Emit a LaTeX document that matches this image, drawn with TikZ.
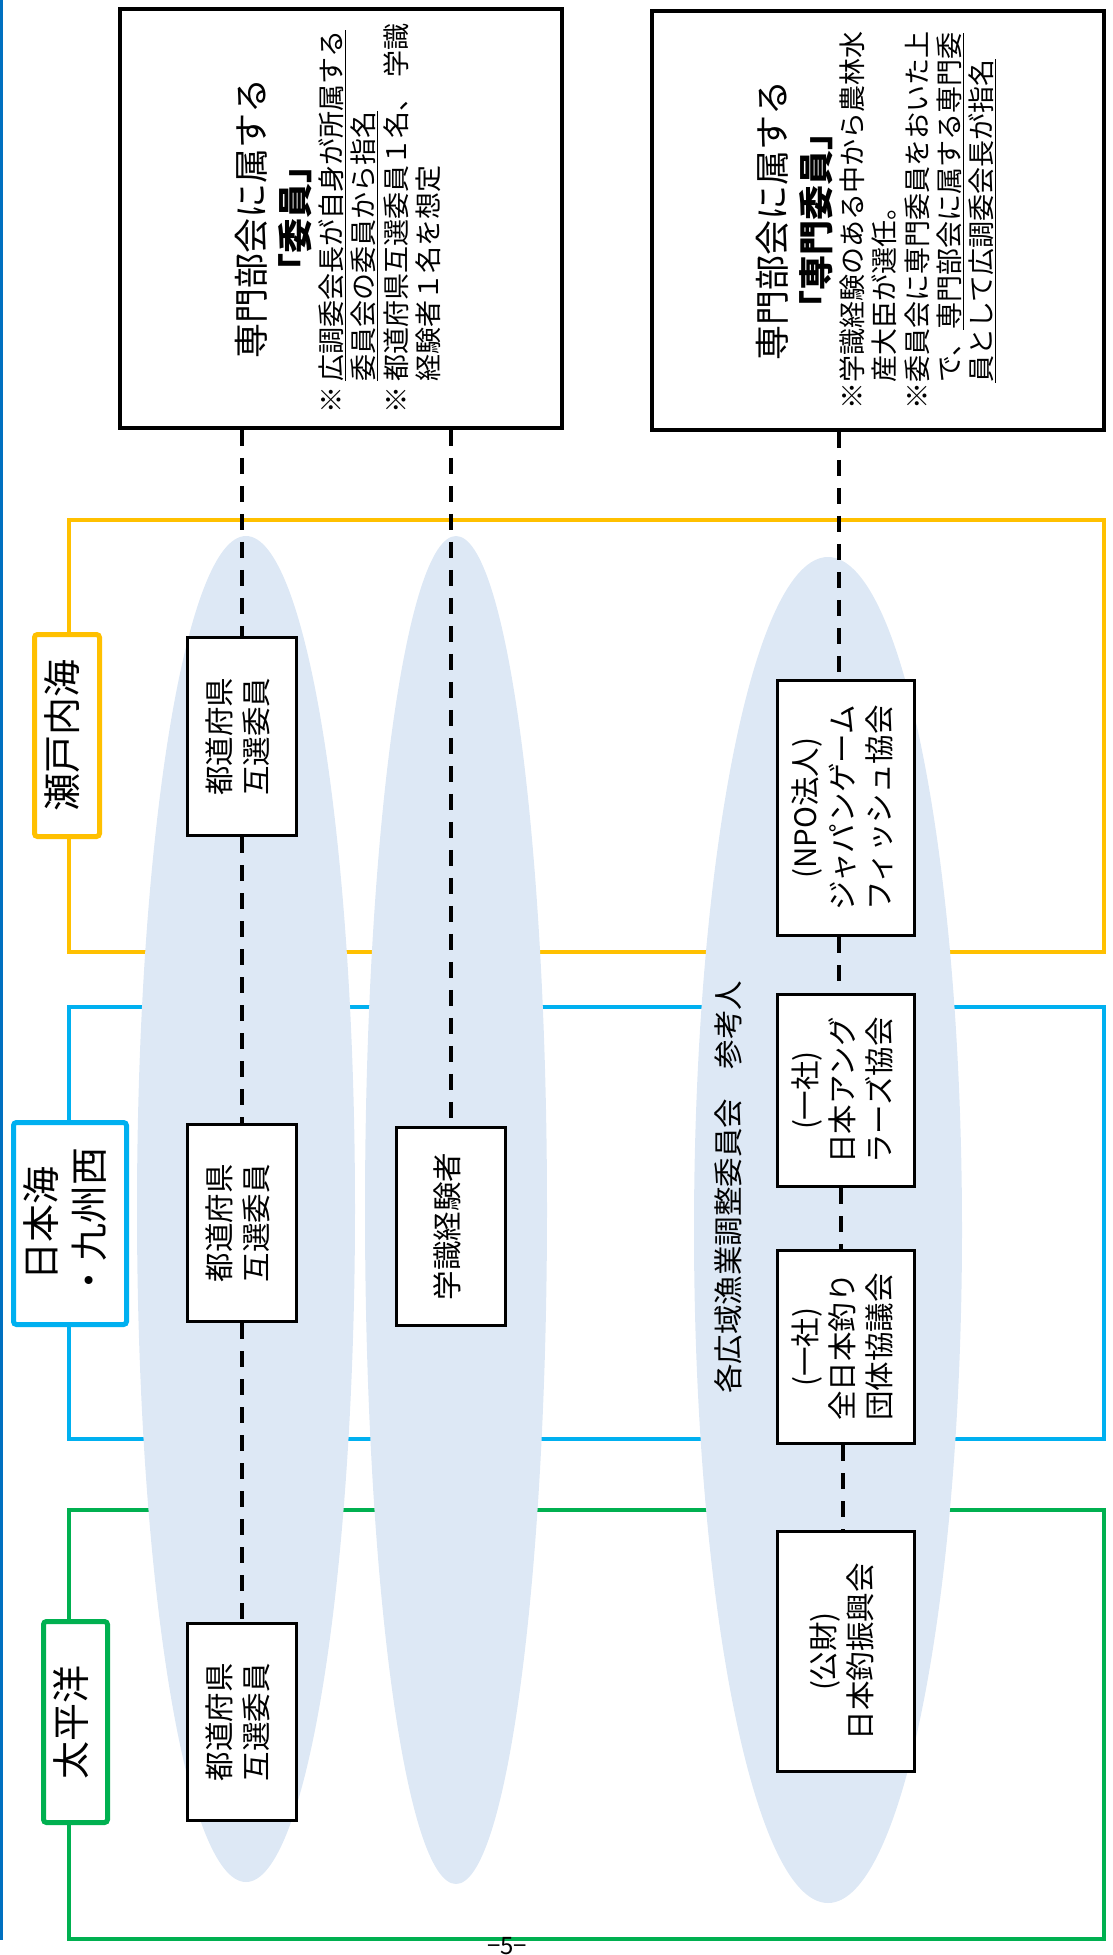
\documentclass[tikz,border=0pt]{standalone}
\usepackage{fontspec}
\setmainfont{Noto Sans CJK JP}
\usepackage{graphicx}
\usetikzlibrary{positioning}
\definecolor{setocolor}{RGB}{255,192,0}
\definecolor{japanseacolor}{RGB}{0,176,240}
\definecolor{pacificcolor}{RGB}{0,176,80}
\definecolor{marginblue}{RGB}{0,112,192}
\definecolor{ovalcolor}{RGB}{221,232,245}
\newcommand{\boxfont}{\fontsize{29.5}{37}\selectfont}
\newcommand{\labelfont}{\fontsize{38}{48}\selectfont}
\newcommand{\headfont}{\fontsize{35}{44}\selectfont}
\newcommand{\notefont}{\fontsize{27}{32}\selectfont}
\newcommand{\vlines}[1]{\rotatebox{90}{\begin{tabular}{@{}c@{}}#1\end{tabular}}}
\newcommand{\indentmark}{\phantom{※}}
\tikzset{
  regionframe/.style={
    line width=4.5pt
  },
  regionlabel/.style={
    draw,
    fill=white,
    line width=5pt,
    rounded corners=3pt,
    inner sep=0pt,
    font=\labelfont
  },
  memberbox/.style={
    draw=black,
    fill=white,
    line width=3pt,
    inner sep=0pt,
    font=\boxfont
  },
  notebox/.style={
    draw=black,
    fill=white,
    line width=3.5pt,
    inner sep=0pt,
    font=\headfont
  },
  dashlink/.style={
    line width=3.5pt,
    dash pattern=on 16pt off 12pt
  },
  oval/.style={
    fill=ovalcolor
  }
}

\begin{document}
\begin{tikzpicture}[x=1pt, y=-1pt]
\useasboundingbox (0,0) rectangle (1112,1955);

% Margin line
\draw[line width=3pt, marginblue] (1.5,0) -- (1.5,1940);

% Region frames
\draw[regionframe, setocolor] (69,520) rectangle (1104,952);
\draw[regionframe, japanseacolor] (69,1007) rectangle (1104,1439);
\draw[regionframe, pacificcolor] (69,1510) rectangle (1104,1939);

% Ovals
\fill[oval] (246,1209) ellipse [x radius=109pt, y radius=673pt];
\fill[oval] (456,1210) ellipse [x radius=91pt, y radius=674pt];
\fill[oval] (828,1230) ellipse [x radius=134pt, y radius=673pt];

% Top boxes
\node[notebox, minimum width=442pt, minimum height=419pt] (iin) at (341,218.5) {%
  \rotatebox{90}{\begin{tabular}{@{}c@{}}
    専門部会に属する\\
    {\bfseries 「委員」}\\[-11pt]
    \notefont\begin{tabular}[t]{@{}l@{}}
      ※\hspace{5pt}\underline{広調委会長が自身が所属する}\\
      \indentmark\hspace{5pt}\underline{委員会の委員から指名}\\
      ※\hspace{5pt}都道府県互選委員１名、 学識\\
      \indentmark\hspace{5pt}経験者１名を想定
    \end{tabular}
  \end{tabular}}};

\node[notebox, minimum width=452pt, minimum height=419pt] (senmon) at (878,220.5) {%
  \rotatebox{90}{\begin{tabular}{@{}c@{}}
    専門部会に属する\\
    {\bfseries 「専門委員」}\\[-11pt]
    \notefont\begin{tabular}[t]{@{}l@{}}
      ※学識経験のある中から農林水\\
      \indentmark 産大臣が選任。\\
      ※委員会に専門委員をおいた上\\
      \indentmark で、\underline{専門部会に属する専門委}\\
      \indentmark\underline{員として広調委会長が指名}
    \end{tabular}
  \end{tabular}}};

% Prefecture members
\node[memberbox, minimum width=109pt, minimum height=198pt] (todoA) at (242,736.5) {\vlines{都道府県\\互選委員}};
\node[memberbox, minimum width=109pt, minimum height=197pt, below=286pt of todoA] (todoB) {\vlines{都道府県\\互選委員}};
\node[memberbox, minimum width=109pt, minimum height=197pt, below=299pt of todoB] (todoC) {\vlines{都道府県\\互選委員}};

% Expert
\node[memberbox, minimum width=109pt, minimum height=198pt] (gakushiki) at (451,1226.5) {\vlines{学識経験者}};

% Witnesses
\node[rotate=90, font=\boxfont] (sankounin) at (728,1187) {各広域漁業調整委員会　参考人};
\node[memberbox, minimum width=137pt, minimum height=255pt] (npo) at (846,808) {\vlines{(NPO法人)\\ジャパンゲーム\\フィッシュ協会}};
\node[memberbox, minimum width=137pt, minimum height=192pt, below=56pt of npo] (angler) {\vlines{(一社)\\日本アング\\ラーズ協会}};
\node[memberbox, minimum width=137pt, minimum height=193pt, below=61pt of angler] (zennihon) {\vlines{(一社)\\全日本釣り\\団体協議会}};
\node[memberbox, minimum width=137pt, minimum height=240pt, below=85pt of zennihon] (kohzai) {\vlines{(公財)\\日本釣振興会}};

% Region labels
\node[regionlabel, draw=setocolor, minimum width=65pt, minimum height=202pt] (seto) at (67,735.5) {\vlines{瀬戸内海}};
\node[regionlabel, draw=japanseacolor, minimum width=113pt, minimum height=202pt] (japansea) at (70,1223.5) {\vlines{日本海\\・九州西}};
\node[regionlabel, draw=pacificcolor, minimum width=64pt, minimum height=201pt] (pacific) at (75.5,1722) {\vlines{太平洋}};

% Dashed links
\draw[dashlink] (iin.south -| todoA) -- (todoA.north);
\draw[dashlink] (todoA.south) -- (todoB.north);
\draw[dashlink] (todoB.south) -- (todoC.north);
\draw[dashlink] (iin.south -| gakushiki) -- (gakushiki.north);
\draw[dashlink] ([xshift=-7pt]senmon.south -| npo) -- ([xshift=-7pt]npo.north);
\draw[dashlink] ([xshift=-7pt]npo.south) -- ([xshift=-7pt]angler.north);
\draw[dashlink] ([xshift=-5pt]angler.south) -- ([xshift=-5pt]zennihon.north);
\draw[dashlink] ([xshift=-3pt]zennihon.south) -- ([xshift=-3pt]kohzai.north);

% Page number
\node[font=\fontsize{24}{28}\selectfont, anchor=north, inner sep=0pt] (pageno) at (507,1937) {−5−};

\end{tikzpicture}
\end{document}
